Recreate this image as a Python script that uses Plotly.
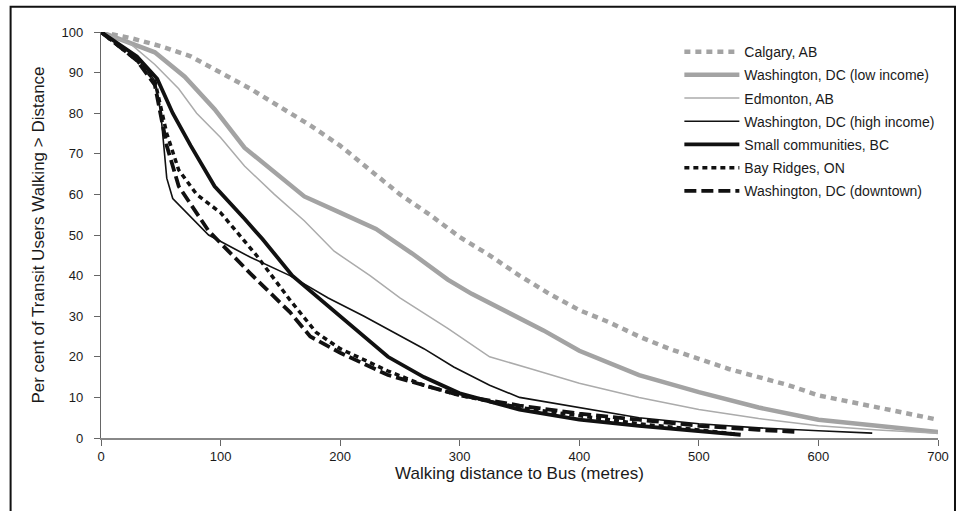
import plotly.graph_objects as go

# ---- data ----
calgary_x = [0, 25, 50, 75, 100, 125, 150, 175, 200, 225, 250, 275, 300, 325, 350, 375, 400, 425, 450, 475, 500, 525, 550, 575, 600, 625, 650, 675, 700]
calgary_y = [100, 98.5, 96.5, 94, 90, 86, 81.5, 77, 72, 66, 60, 55, 49.5, 45, 40, 35.5, 31.5, 28.5, 25, 22, 19.5, 17, 15, 13, 10.5, 9, 7.5, 6, 4.5]

dc_low_x = [0, 45, 70, 95, 120, 145, 170, 200, 230, 260, 290, 310, 340, 370, 400, 450, 500, 550, 600, 650, 700]
dc_low_y = [100, 95, 89, 81, 71.5, 65.5, 59.5, 55.5, 51.5, 45.5, 39, 35.5, 31, 26.5, 21.5, 15.5, 11.3, 7.5, 4.5, 3, 1.5]

edm_x = [0, 25, 45, 65, 80, 100, 120, 145, 170, 195, 225, 250, 290, 325, 360, 400, 450, 500, 550, 600, 650, 700]
edm_y = [100, 97, 92, 86, 80, 74, 67, 60, 53.5, 46, 40, 34.5, 27, 20, 17, 13.5, 10, 7, 4.8, 3, 2, 1.2]

dc_high_x = [0, 20, 35, 45, 50, 55, 60, 72, 90, 125, 158, 190, 220, 245, 270, 295, 325, 350, 400, 450, 500, 550, 600, 645]
dc_high_y = [100, 96, 92, 88, 80, 64, 59, 55.5, 50, 44.5, 40, 34.5, 30, 26, 22, 17.5, 13, 10, 7.5, 5, 3.5, 2.5, 1.8, 1.2]

small_x = [0, 30, 47, 60, 75, 95, 120, 135, 160, 200, 240, 270, 300, 350, 400, 450, 500, 535]
small_y = [100, 94, 88.5, 80, 72, 62, 54, 49, 40, 30, 20, 15, 11, 7, 4.5, 3, 1.8, 0.8]

bay_x = [0, 30, 45, 55, 65, 80, 100, 130, 158, 180, 200, 240, 270, 300, 350, 400, 450, 500, 530]
bay_y = [100, 93, 88, 75, 66, 60, 55.5, 45, 34, 26, 22, 16.5, 13, 10.5, 7.5, 5.5, 3.5, 2, 1]

dc_down_x = [0, 30, 45, 55, 65, 90, 125, 158, 175, 200, 240, 270, 300, 350, 400, 450, 500, 550, 582]
dc_down_y = [100, 93, 87, 72, 62, 51, 40.5, 31, 25, 21, 15.5, 13, 10.5, 8, 6, 4.5, 3, 2, 1.5]

x_ticks = [0, 100, 200, 300, 400, 500, 600, 700]
y_ticks = [0, 10, 20, 30, 40, 50, 60, 70, 80, 90, 100]

series = [
    ("Calgary, AB", calgary_x, calgary_y, "#a3a3a3", 4.5, "6px,5px"),
    ("Washington, DC (low income)", dc_low_x, dc_low_y, "#a3a3a3", 4.5, "solid"),
    ("Edmonton, AB", edm_x, edm_y, "#ababab", 1.5, "solid"),
    ("Washington, DC (high income)", dc_high_x, dc_high_y, "#111111", 1.6, "solid"),
    ("Small communities, BC", small_x, small_y, "#111111", 3.8, "solid"),
    ("Bay Ridges, ON", bay_x, bay_y, "#111111", 3.5, "5px,4px"),
    ("Washington, DC (downtown)", dc_down_x, dc_down_y, "#111111", 3.8, "12px,5px"),
]

fig = go.Figure()
for i, (name, xs, ys, color, width, dash) in enumerate(series):
    fig.add_trace(go.Scatter(x=xs, y=ys, mode="lines", name=name, legendgroup=f"g{i}",
                             line=dict(color=color, width=width, dash=dash)))

font_family = "Liberation Sans, Arial, sans-serif"

fig.update_layout(
    width=960, height=511,
    margin=dict(l=101, r=22, t=32, b=73),
    paper_bgcolor="white", plot_bgcolor="white",
    font=dict(family=font_family, color="#1a1a1a", size=13),
    showlegend=True,
    legend=dict(x=0.691, y=0.99, xanchor="left", yanchor="top",
                bgcolor="rgba(0,0,0,0)", font=dict(size=14, color="#1a1a1a"),
                tracegroupgap=2, itemwidth=55),
    xaxis=dict(range=[0, 700], tickvals=x_ticks, ticktext=[str(v) for v in x_ticks],
               showgrid=False, zeroline=False, showline=True, linecolor="#888888", linewidth=1.5,
               ticks="outside", ticklen=6, tickcolor="#666666",
               tickfont=dict(size=13, color="#1a1a1a"),
               title=dict(text="Walking distance to Bus (metres)", font=dict(size=17, color="#1a1a1a"), standoff=2)),
    yaxis=dict(range=[0, 100], tickvals=y_ticks, ticktext=[str(v) for v in y_ticks],
               showgrid=False, zeroline=False, showline=True, linecolor="#666666", linewidth=1.2,
               ticks="outside", ticklen=6, tickcolor="#666666", ticklabelstandoff=8,
               tickfont=dict(size=13, color="#1a1a1a"),
               title=dict(text="Per cent of Transit Users Walking > Distance", font=dict(size=17, color="#1a1a1a"), standoff=12)),
    shapes=[dict(type="rect", xref="paper", yref="paper",
                 x0=-0.108, x1=1.0203, y0=-0.19, y1=1.062,
                 line=dict(color="#111111", width=2), fillcolor="rgba(0,0,0,0)", layer="below")],
)

fig.write_html("out.html", config={"displayModeBar": False},
               post_script="document.body.style.margin='0';")
